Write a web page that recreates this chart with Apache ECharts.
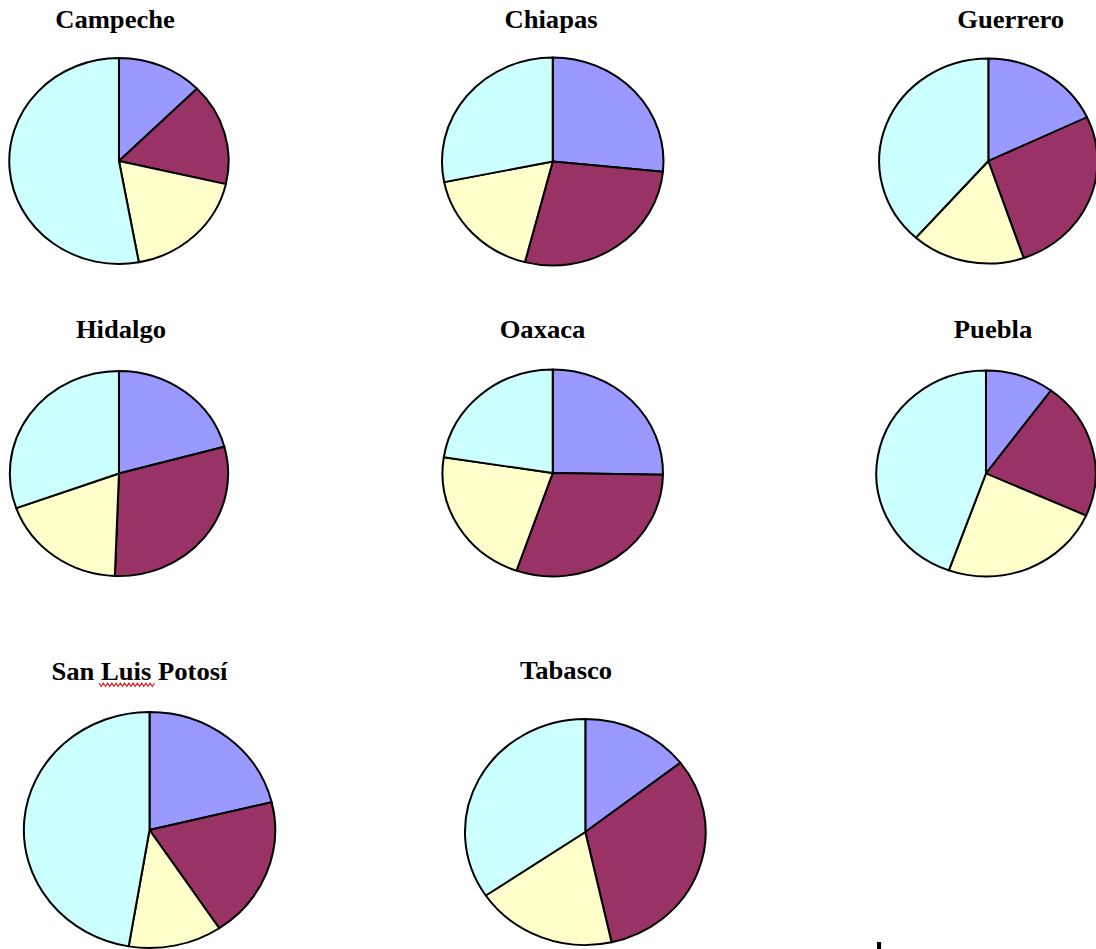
<!DOCTYPE html>
<html>
<head>
<meta charset="utf-8">
<script src="https://cdn.jsdelivr.net/npm/echarts@6/dist/echarts.min.js"></script>
<style>
  html, body { margin: 0; padding: 0; background: #ffffff; overflow: hidden; }
  #wrap { width: 1096px; height: 949px; overflow: hidden; position: relative; }
  #chart { width: 1029px; height: 949px; transform: scaleX(1.065); transform-origin: 0 0; }
</style>
</head>
<body>
<div id="wrap"><div id="chart"></div></div>
<script>
// Categories (states) and the four slice series (percent shares)
const states = ['Campeche', 'Chiapas', 'Guerrero', 'Hidalgo', 'Oaxaca', 'Puebla', 'San Luis Potosí', 'Tabasco'];
const slice1 = [12.6, 26.6, 18.0, 20.8, 25.3, 10.1, 21.2, 14.5]; // lavender
const slice2 = [16.0, 27.5, 26.8, 29.8, 30.1, 21.6, 19.4, 32.0]; // maroon
const slice3 = [18.5, 17.8, 16.8, 18.9, 22.1, 23.8, 12.0, 19.0]; // light yellow
const slice4 = [52.9, 28.2, 38.5, 30.5, 22.6, 44.5, 47.3, 34.5]; // light cyan
const sliceNames = ['Serie 1', 'Serie 2', 'Serie 3', 'Serie 4'];

// layout (unscaled page coordinates)
const centers = [[111.7, 161], [519, 161.5], [928, 161], [111.7, 473.5], [519, 473], [925.8, 473.5], [140.4, 830], [549.6, 832]];
const radii = [103, 104, 102.5, 102.5, 103.5, 103, 118, 113];
const titlePos = [[108, 20], [517.4, 20], [949, 20], [113.6, 330], [509.4, 330], [932.4, 330], [131, 672], [531.5, 671]];
const colors = ['#9999FF', '#993366', '#FFFFCC', '#CCFFFF'];

const chart = echarts.init(document.getElementById('chart'), null, { renderer: 'svg' });

const series = states.map((s, i) => ({
  type: 'pie',
  name: s,
  center: centers[i],
  radius: radii[i],
  startAngle: 90,
  clockwise: true,
  silent: true,
  animation: false,
  avoidLabelOverlap: false,
  label: { show: false },
  labelLine: { show: false },
  itemStyle: { borderColor: '#000000', borderWidth: 1.9 },
  data: [slice1[i], slice2[i], slice3[i], slice4[i]].map((v, k) => ({
    name: sliceNames[k], value: v, itemStyle: { color: colors[k] }
  }))
}));

const titles = states.map((s, i) => ({
  type: 'text',
  x: titlePos[i][0],
  y: titlePos[i][1],
  silent: true,
  style: {
    text: s,
    fill: '#000000',
    font: 'bold 25px "Liberation Serif", "Times New Roman", serif',
    textAlign: 'center',
    textVerticalAlign: 'middle'
  }
}));

// red wavy spell-check underline under "Luis"
const wave = [];
for (let x = 93; x <= 145; x += 2) {
  wave.push([x, (Math.round((x - 93) / 2) % 2 === 0) ? 683 : 686.5]);
}

chart.setOption({
  backgroundColor: '#ffffff',
  animation: false,
  series: series,
  graphic: titles.concat([
    { type: 'polyline', silent: true, shape: { points: wave }, style: { stroke: '#E02020', lineWidth: 1.1, fill: null } },
    { type: 'rect', silent: true, shape: { x: 823.5, y: 942, width: 3.8, height: 7 }, style: { fill: '#000000' } }
  ])
});
</script>
</body>
</html>
